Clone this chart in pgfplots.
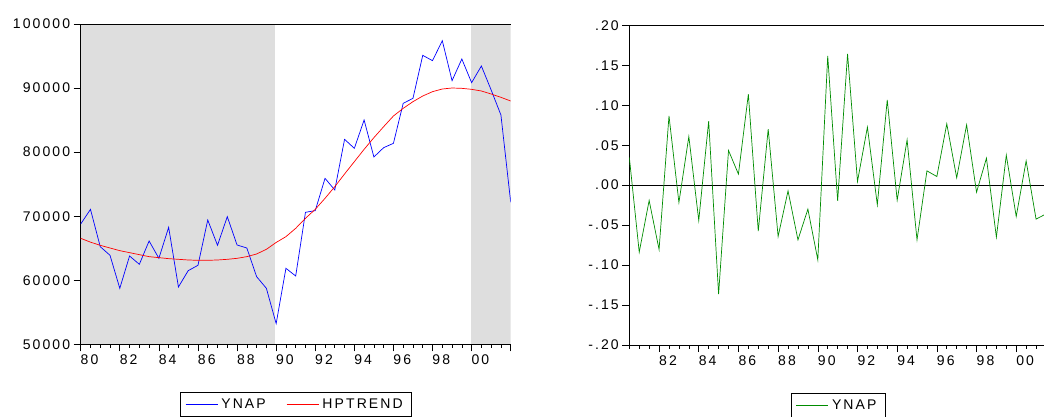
\documentclass[border=0pt]{standalone}
\usepackage{fontspec}
\setmainfont{Liberation Sans}[LetterSpace=15]
\usepackage{pgfplots}
\pgfplotsset{compat=1.18}
\definecolor{shadegray}{RGB}{222,222,222}
\definecolor{evgreen}{RGB}{0,140,0}
\newcommand\evfont{\fontsize{14pt}{16pt}\selectfont}

\pgfplotstableread{
k y
0 68783
1 71072
2 65242
3 63892
4 58740
5 63788
6 62487
7 66129
8 63424
9 68262
10 58949
11 61498
12 62331
13 69407
14 65452
15 69927
16 65504
17 65036
18 60562
19 58740
20 53226
21 61863
22 60666
23 70604
24 70864
25 75911
26 74090
27 81998
28 80593
29 85016
30 79240
31 80697
32 81373
33 87617
34 88398
35 95109
36 94277
37 97398
38 91155
39 94537
40 90843
41 93444
42 89698
43 85796
44 72164
}\ynap

\pgfplotstableread{
k y
0 66545
1 65950
2 65450
3 65036
4 64620
5 64308
6 63995
7 63683
8 63528
9 63372
10 63267
11 63163
12 63111
13 63111
14 63163
15 63267
16 63420
17 63683
18 64100
19 64828
20 65900
21 66805
22 68106
23 69667
24 71072
25 72789
26 74610
27 76587
28 78512
29 80437
30 82258
31 83975
32 85640
33 86837
34 87877
35 88762
36 89438
37 89854
38 90010
39 89958
40 89802
41 89542
42 89074
43 88554
44 87981
}\hptrend

\pgfplotstableread{
k g
0 0.035
1 -0.0838
2 -0.0192
3 -0.0805
4 0.0867
5 -0.0217
6 0.0609
7 -0.0442
8 0.0801
9 -0.1364
10 0.0434
11 0.0138
12 0.1138
13 -0.0575
14 0.0701
15 -0.0642
16 -0.0071
17 -0.0684
18 -0.0300
19 -0.0934
20 0.1618
21 -0.0196
22 0.1643
23 0.0046
24 0.0726
25 -0.0246
26 0.1068
27 -0.0188
28 0.0567
29 -0.0684
30 0.0179
31 0.0108
32 0.0767
33 0.0092
34 0.0755
35 -0.0088
36 0.0338
37 -0.0651
38 0.0375
39 -0.0392
40 0.0304
41 -0.0425
42 -0.0360
43 -0.1730
}\growth

\pgfplotsset{
  evstyle/.style={
    scale only axis,
    axis x line*=box,
    axis y line*=left,
    every outer x axis line/.append style={-},
    every outer y axis line/.append style={-},
    xtick pos=left, ytick pos=left,
    tick align=outside,
    major tick length=7pt,
    minor tick length=3.5pt,
    tick style={black, line width=0.6pt},
    axis line style={black, line width=0.6pt},
    tick label style={font=\evfont, black},
    scaled y ticks=false, scaled x ticks=false,
    xticklabels={},
    extra x tick style={tick style={draw=none}},
    legend style={font=\evfont, draw=black, line width=0.6pt, legend columns=-1,
      inner xsep=5pt, inner ysep=3pt,
      nodes={inner sep=3.5pt},
      /tikz/every even column/.append style={column sep=17pt}},
    legend image code/.code={\draw[#1] (0pt,0pt) -- (32pt,0pt);},
  }
}

\begin{document}
\begin{tikzpicture}
\useasboundingbox (0pt,0pt) rectangle (1044pt,-416pt);
\begin{axis}[evstyle,
  at={(80.7pt,-344.3pt)}, anchor=south west,
  width=430pt, height=320.3pt,
  xmin=0, xmax=44, ymin=50000, ymax=100000,
  xtick={0,4,...,44}, minor xtick={0,1,...,44},
  extra x ticks={0.9,4.9,8.9,12.9,16.9,20.9,24.9,28.9,32.9,36.9,40.9},
  extra x tick labels={80,82,84,86,88,90,92,94,96,98,00},
  ytick={50000,60000,70000,80000,90000,100000},
  yticklabels={50000,60000,70000,80000,90000,100000},
  legend style={at={(0.5,-0.149)}, anchor=north},
]
\addplot[fill=shadegray, draw=none, forget plot] coordinates {(0.02,50090) (19.85,50090) (19.85,99910) (0.02,99910)} -- cycle;
\addplot[fill=shadegray, draw=none, forget plot] coordinates {(39.95,50090) (44,50090) (44,99910) (39.95,99910)} -- cycle;
\addplot[blue, line width=0.7pt] table[x=k,y=y] {\ynap};
\addlegendentry{YNAP}
\addplot[red, line width=0.7pt] table[x=k,y=y] {\hptrend};
\addlegendentry{HPTREND}
\end{axis}

\begin{axis}[evstyle,
  at={(629.3pt,-345pt)}, anchor=south west,
  width=426.6pt, height=319.7pt,
  xmin=0, xmax=43, ymin=-0.2, ymax=0.2,
  xtick={3,7,...,43}, minor xtick={0,1,...,43},
  extra x ticks={3.9,7.9,11.9,15.9,19.9,23.9,27.9,31.9,35.9,39.9},
  extra x tick labels={82,84,86,88,90,92,94,96,98,00},
  ytick={-0.2,-0.15,-0.1,-0.05,0,0.05,0.1,0.15,0.2},
  yticklabels={-.20,-.15,-.10,-.05,.00,.05,.10,.15,.20},
  legend style={at={(0.489,-0.150)}, anchor=north},
]
\addplot[black, line width=0.6pt, forget plot] coordinates {(0,0) (43,0)};
\addplot[evgreen, line width=0.7pt] table[x=k,y=g] {\growth};
\addlegendentry{YNAP}
\end{axis}
\end{tikzpicture}
\end{document}
